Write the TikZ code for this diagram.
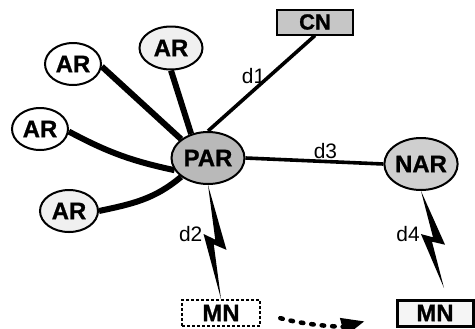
\documentclass[tikz,border=0pt]{standalone}
\usepackage{fontspec}
\setmainfont{Liberation Sans}
\newfontfamily\heavyfont[FakeBold=1]{Liberation Sans Bold}
\usepackage{tikz}
\usetikzlibrary{shapes.geometric, arrows.meta, calc}

\newcommand{\boxfont}{\fontsize{24}{24}\selectfont\heavyfont}
\newcommand{\dfont}{\fontsize{21}{21}\selectfont}

% zig-zag wireless link from #1 to #2, label #3 beside the left kink
\newcommand{\radiolink}[3]{%
  \fill (#1) -- ($(#1)!0.58!(#2)!11bp!90:(#2)$)
    -- ($(#1)!0.52!(#2)!1bp!-90:(#2)$) -- (#2)
    -- ($(#1)!0.42!(#2)!10bp!-90:(#2)$) node[left=0bp, inner sep=1bp, font=\dfont] {#3}
    -- ($(#1)!0.48!(#2)!1bp!90:(#2)$) -- cycle;
}

\begin{document}
\begin{tikzpicture}[x=1bp, y=-1bp]
    \tikzstyle{router}=[ellipse, draw, line width=2bp, inner sep=0pt, font=\boxfont, minimum width=56bp, minimum height=42bp]
    \tikzstyle{bignode}=[router, minimum width=73bp, minimum height=52bp]
    \tikzstyle{host}=[rectangle, draw, inner sep=0pt, font=\boxfont, minimum height=26bp]
    \tikzstyle{wire}=[line width=6bp]
    \tikzstyle{link}=[line width=3.6bp]
    \tikzstyle{move}=[line width=4.5bp, dash pattern=on 2.5bp off 8bp, line cap=round, -{Triangle[length=23bp, width=18bp]}]

    \useasboundingbox (0,0) rectangle (475,328);

    \node[router] (ar1) at (73,64) {AR};
    \node[router, fill=gray!12, minimum width=63bp, minimum height=43bp] (ar2) at (171,48) {AR};
    \node[router] (ar3) at (40,129) {AR};
    \node[router, fill=gray!12, minimum width=58bp] (ar4) at (69,211) {AR};
    \node[bignode, fill=gray!55] (PAR) at (208,158) {PAR};
    \node[bignode, fill=gray!38] (NAR) at (421,164) {NAR};
    \node[host, fill=gray!45, line width=2bp, minimum width=76bp, minimum height=25bp, font=\fontsize{22}{22}\selectfont\heavyfont] (CN) at (315,22) {CN};
    \node[host, line width=2bp, dash pattern=on 3bp off 2bp, minimum width=78bp] (mnold) at (221,313) {MN};
    \node[host, fill=gray!8, line width=3bp, minimum width=76bp] (mnnew) at (435,313) {MN};
    \coordinate (d4end) at (444,288);

    \draw[wire] (ar1.-5) -- (PAR.145);
    \draw[wire] (ar2.south) -- (PAR.125);
    \draw[wire] (ar3.-5) to[bend right=8] (PAR.200);
    \draw[wire] (ar4.east) to[out=12, in=220] (PAR.215);

    \draw[link] (PAR.north) -- node[pos=0.58, left=2bp, inner sep=1bp, font=\dfont] {d1} (CN.south);
    \draw[link] (PAR.east) -- node[pos=0.58, above=0bp, inner sep=1bp, font=\dfont] {d3} (NAR.west);

    \radiolink{PAR.south}{mnold.north}{d2}
    \radiolink{NAR.south}{d4end}{d4}

    \draw[move, shorten <=20bp, shorten >=32bp] (mnold.east) to[bend right=15] (mnnew.west);
\end{tikzpicture}
\end{document}
